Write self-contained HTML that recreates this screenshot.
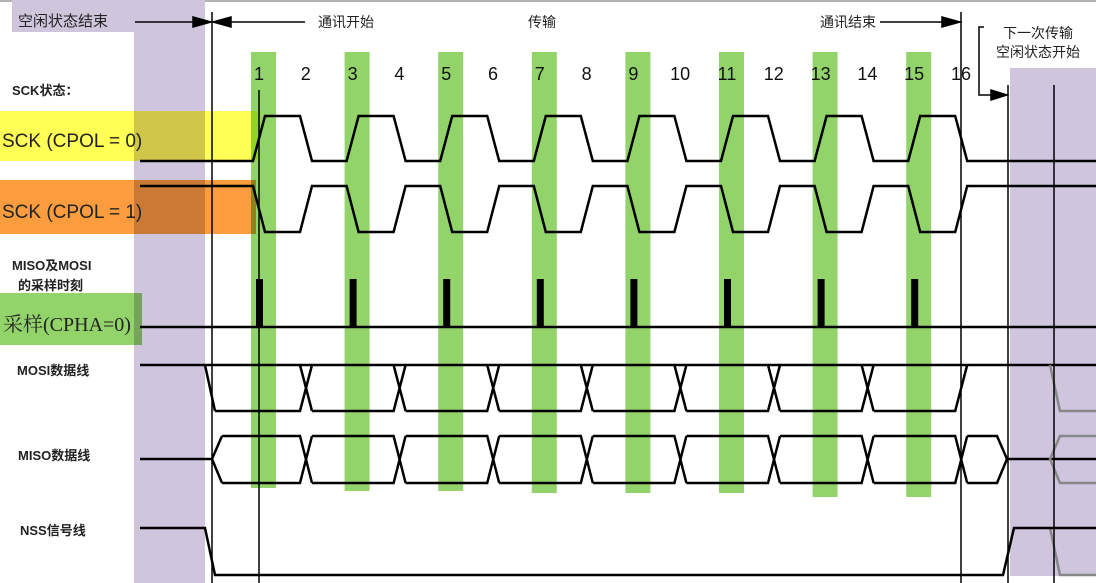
<!DOCTYPE html>
<html><head><meta charset="utf-8"><style>
html,body{margin:0;padding:0;background:#fff;}
svg{display:block;font-family:"Liberation Sans","Noto Sans CJK SC",sans-serif;}
.lbl{font-weight:bold;font-size:13px;fill:#222;}
</style></head><body>
<svg id="c" width="1096" height="583" viewBox="0 0 1096 583" xmlns="http://www.w3.org/2000/svg">
<line x1="0" y1="1" x2="1096" y2="1" stroke="#999" stroke-width="1.5"/>
<rect x="12" y="0" width="193" height="32" fill="#cfc6de"/>
<rect x="134" y="0" width="71" height="583" fill="#cfc6de"/>
<rect x="1010" y="68" width="86" height="508" fill="#cfc6de"/>
<g id="greens"></g>
<rect x="0" y="111" width="258" height="50" fill="#ffff55" style="mix-blend-mode:multiply"/>
<rect x="0" y="180" width="256" height="54" fill="#fb9d3e" style="mix-blend-mode:multiply"/>
<rect x="0" y="293" width="142" height="52" fill="#92d36a" style="mix-blend-mode:multiply"/>
<text x="18" y="26" font-size="15" fill="#222">空闲状态结束</text>
<text x="318" y="27" font-size="14" fill="#222">通讯开始</text>
<text x="528" y="27" font-size="14" fill="#222">传输</text>
<text x="820" y="27" font-size="14" fill="#222">通讯结束</text>
<text x="1003" y="38" font-size="14" fill="#222">下一次传输</text>
<text x="996" y="57" font-size="14" fill="#222">空闲状态开始</text>
<text x="12" y="95" class="lbl">SCK状态：</text>
<text x="2" y="147" font-size="19" fill="#222">SCK (CPOL = 0)</text>
<text x="2" y="218" font-size="19" fill="#222">SCK (CPOL = 1)</text>
<text x="12" y="270" class="lbl">MISO及MOSI</text>
<text x="18" y="290" class="lbl">的采样时刻</text>
<text x="3" y="331" font-size="20" fill="#222" font-family="'Liberation Serif','Noto Serif CJK SC',serif">采样(CPHA=0)</text>
<text x="17" y="375" class="lbl">MOSI数据线</text>
<text x="18" y="460" class="lbl">MISO数据线</text>
<text x="20" y="535" class="lbl">NSS信号线</text>
<g id="nums"></g>
<g id="wave" fill="none" stroke="#000" stroke-width="2.5"></g>
<g stroke="#000" stroke-width="1.5">
<line x1="212" y1="12" x2="212" y2="583"/><line x1="259" y1="90" x2="259" y2="583"/>
<line x1="961" y1="12" x2="961" y2="583"/><line x1="1008" y1="85" x2="1008" y2="583"/><line x1="1054" y1="85" x2="1054" y2="583"/>
<line x1="135" y1="22" x2="205" y2="22"/><polygon points="211,22 193,17 193,27" fill="#000"/>
<line x1="220" y1="22" x2="305" y2="22"/><polygon points="213,22 231,17 231,27" fill="#000"/>
<line x1="880" y1="22" x2="950" y2="22"/><polygon points="960,22 942,17 942,27" fill="#000"/>
<polyline points="984,27 979,27 979,95 995,95" fill="none"/><polygon points="1007,95 991,90 991,100" fill="#000"/>
</g>
</svg>
<script>
const bitNumbers=[1,2,3,4,5,6,7,8,9,10,11,12,13,14,15,16];
const sampleCycles=[0,1,2,3,4,5,6,7];
const greenBottoms=[488,491,491,493,493,493,497,497];
const NS="http://www.w3.org/2000/svg";
const P=93.6, R0=253;
function riseX(k){return R0+k*P;}
function bitX(n){return 259+(n-1)*P/2;}
const g=document.getElementById('greens'),nums=document.getElementById('nums'),w=document.getElementById('wave');
function mk(tag,attrs,parent){const e=document.createElementNS(NS,tag);for(const k in attrs)e.setAttribute(k,attrs[k]);parent.appendChild(e);return e;}
sampleCycles.forEach((k,i)=>{
 const r=mk('rect',{x:riseX(k)-2,y:52,width:25,height:greenBottoms[i]-52,fill:'#92d36a'},g);
 
 
});
bitNumbers.forEach(n=>{
 const t=mk('text',{x:bitX(n),y:80,'font-size':18,fill:'#111','text-anchor':'middle'},nums);
 t.textContent=n;
 
 
});
function clock(a,b){
 let d=`M140 ${a} `;
 sampleCycles.forEach(k=>{const r=riseX(k);d+=`L${r} ${a} L${r+12} ${b} L${r+47} ${b} L${r+59} ${a} `;});
 d+=`L1096 ${a}`;return d;
}
let p=mk('path',{d:clock(161,116)},w);
p=mk('path',{d:clock(186,232)},w);
p=mk('path',{d:'M140 327 L1096 327'},w);
sampleCycles.forEach(k=>{const r=mk('rect',{x:riseX(k)+3,y:279,width:7,height:48,fill:'#000',stroke:'none'},w);
 });
// MOSI
let hi=365,lo=411;
let d=`M140 ${hi} L1096 ${hi} M205 ${hi} L215 ${lo} `;
let prev=215;
sampleCycles.forEach(k=>{const c=riseX(k)+53;
 if(k<7){d+=`M${prev} ${lo} L${c-6} ${lo} L${c+6} ${hi} M${c-6} ${hi} L${c+6} ${lo} `;prev=c+6;}
 else{d+=`M${prev} ${lo} L${c-6} ${lo} L${c+6} ${hi} `;}
});
p=mk('path',{d:d},w);
// MISO
const mi=459;
d=`M140 ${mi} L212 ${mi} L222 436 M212 ${mi} L222 483 `;
prev=222;
sampleCycles.forEach(k=>{const c=riseX(k)+53;d+=`M${prev} 436 L${c-6} 436 L${c+6} 483 M${prev} 483 L${c-6} 483 L${c+6} 436 `;prev=c+6;});
d+=`M${prev} 436 L997 436 L1007 ${mi} L997 483 L${prev} 483 M1007 ${mi} L1096 ${mi}`;
p=mk('path',{d:d},w);
p=mk('path',{d:'M1050 365 L1060 411 L1096 411 M1070 436 L1060 436 L1050 459 L1060 483 L1096 483 M1060 436 L1096 436 M1050 528 L1060 575 L1096 575',stroke:'#888'},w);

p=mk('path',{d:'M140 528 L205 528 L215 575 L1003 575 L1014 528 L1096 528'},w);
</script>
</body></html>
